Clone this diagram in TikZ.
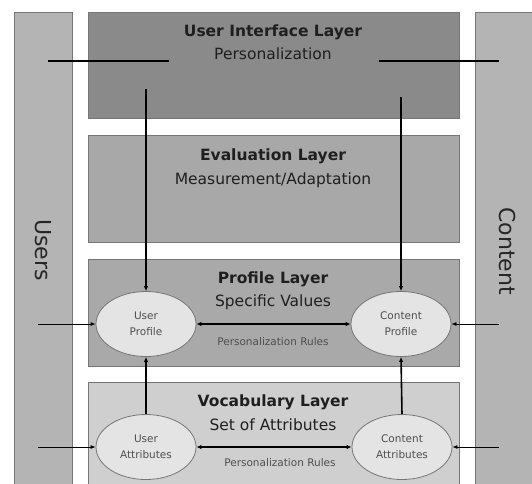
\documentclass[tikz,border=0pt]{standalone}
\usepackage{fontspec}
\setmainfont{DejaVu Sans}
\usetikzlibrary{arrows.meta,shapes.geometric}

\definecolor{uicol}{HTML}{8A8A8A}
\definecolor{evalcol}{HTML}{A8A8A8}
\definecolor{profcol}{HTML}{A9A9A9}
\definecolor{vocabcol}{HTML}{CFCFCF}
\definecolor{sidecol}{HTML}{B4B4B4}
\definecolor{entcol}{HTML}{E4E4E4}
\definecolor{edgecol}{HTML}{767676}
\definecolor{smalltext}{HTML}{4E4E4E}

\begin{document}
\begin{tikzpicture}[
        x=1pt, y=-1pt,
        side/.style={draw=edgecol, fill=sidecol, line width=0.6pt, inner sep=0pt, minimum width=58pt},
        sidetext/.style={rotate=-90, font=\fontsize{22}{26}\selectfont, text=black!85},
        layer/.style={draw=edgecol, line width=0.6pt, inner sep=0pt, minimum width=371pt},
        title/.style={anchor=base, font=\fontsize{15.5}{18}\selectfont\bfseries, text=black!88},
        subtitle/.style={anchor=base, font=\fontsize{15.5}{18}\selectfont, text=black!88},
        ent/.style={draw=edgecol, fill=entcol, ellipse, line width=0.8pt, minimum width=100pt,
            minimum height=65pt, inner sep=0pt, align=center,
            font=\fontsize{10.5}{16}\selectfont, text=smalltext},
        rules/.style={anchor=base, font=\fontsize{10.5}{14}\selectfont, text=smalltext},
        link/.style={draw, line width=1.6pt, -{Latex[length=5pt,width=4.5pt]}},
        both/.style={link, {Latex[length=5pt,width=4.5pt]}-{Latex[length=5pt,width=4.5pt]}},
        feed/.style={draw, line width=0.8pt, -{Latex[length=5pt,width=4pt]}},
    ]
    \useasboundingbox (0,0) rectangle (532,483);
    % side columns
    \node[side, minimum height=480pt, anchor=north] (users) at (43,12) {};
    \node[side, minimum height=480pt, anchor=north west] (content) at (475,12) {};
    \node[sidetext] (userslabel) at (43,250) {Users};
    \node[sidetext] (contentlabel) at (507,251) {Content};
    % layers
    \node[layer, fill=uicol, minimum height=106pt, anchor=north] (ui) at (273.5,12) {};
    \node[layer, fill=evalcol, minimum height=107pt, anchor=north] (eval) at (273.5,135) {};
    \node[layer, fill=profcol, minimum height=107pt, anchor=north] (prof) at (273.5,259) {};
    \node[layer, fill=vocabcol, minimum height=110pt, anchor=north] (vocab) at (273.5,382) {};
    \node[title] (uit) at (273,36) {User Interface Layer};
    \node[subtitle] (uis) at (273,59) {Personalization};
    \node[title] (evt) at (273,160) {Evaluation Layer};
    \node[subtitle] (evs) at (273,184) {Measurement/Adaptation};
    \node[title] (prt) at (273,283) {Profile Layer};
    \node[subtitle] (prs) at (273,306) {Specific Values};
    \node[title] (vot) at (273,406) {Vocabulary Layer};
    \node[subtitle] (vos) at (273,430) {Set of Attributes};
    % entities
    \node[ent] (uprof) at (146,324) {User\\Profile};
    \node[ent] (cprof) at (401,324) {Content\\Profile};
    \node[ent] (uattr) at (146,447) {User\\Attributes};
    \node[ent] (cattr) at (402,447) {Content\\Attributes};
    \node[rules] (prrules) at (273,345) {Personalization Rules};
    \node[rules] (vorules) at (280,466) {Personalization Rules};
    % free ends
    \coordinate (uileft) at (48,61);
    \coordinate (uileftend) at (169,61);
    \coordinate (uiright) at (379,61);
    \coordinate (uirightend) at (499,61);
    \coordinate (udown) at (146,89);
    \coordinate (cdown) at (401,97);
    \coordinate (uin1) at (38,324);
    \coordinate (uin2) at (38,447);
    \coordinate (cin1) at (499,324);
    \coordinate (cin2) at (499,447);
    % connectors
    \draw[line width=1.6pt] (uileft) -- (uileftend);
    \draw[line width=1.6pt] (uiright) -- (uirightend);
    \draw[link] (udown) -- (uprof.north);
    \draw[link] (cdown) -- (cprof.north);
    \draw[link] (uattr.north) -- (uprof.south);
    \draw[link] (cattr.north) -- (cprof.south);
    \draw[both] (uprof.east) -- (cprof.west);
    \draw[both] (uattr.east) -- (cattr.west);
    \draw[feed] (uin1) -- (uprof.west);
    \draw[feed] (uin2) -- (uattr.west);
    \draw[feed] (cin1) -- (cprof.east);
    \draw[feed] (cin2) -- (cattr.east);
\end{tikzpicture}
\end{document}
